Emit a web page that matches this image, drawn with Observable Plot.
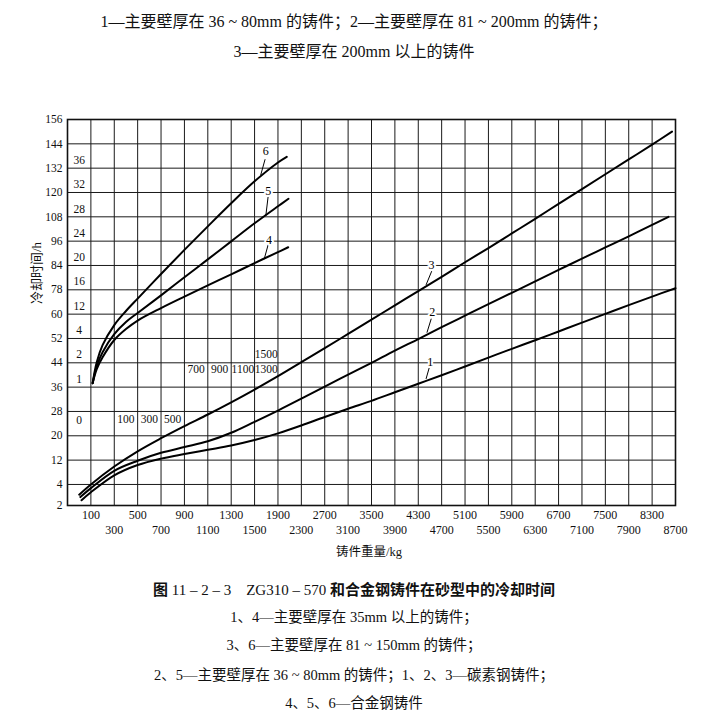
<!DOCTYPE html>
<html><head><meta charset="utf-8">
<script src="https://cdn.jsdelivr.net/npm/d3@7"></script>
<script src="https://cdn.jsdelivr.net/npm/@observablehq/plot@0.6"></script>
<style>
body{margin:0;background:#fff;}
#wrap{position:relative;width:708px;height:722px;font-family:"Liberation Serif","Noto Sans CJK SC",serif;color:#111;overflow:hidden;}
#wrap svg{position:absolute;left:0;top:0;}
.t{position:absolute;left:0;width:708px;text-align:center;white-space:nowrap;}
.r{position:absolute;white-space:nowrap;}
.n{font-weight:normal;}
</style></head><body><div id="wrap"></div>
<script>
// ---- tick labels ----
const xTicks = [100,300,500,700,900,1100,1300,1500,1900,2300,2700,3100,3500,3900,4300,4700,5100,5500,5900,6300,6700,7100,7500,7900,8300,8700];
const yTicks = [2,4,12,20,28,36,44,52,60,78,84,96,108,120,132,144,156];
const xRow1 = xTicks.filter((d, i) => i % 2 === 0);
const xRow2 = xTicks.filter((d, i) => i % 2 === 1);

// inner (alloy) scale labels
const alloyHours = ["36","32","28","24","20","16","12","4","2","1"];
const alloyHourLines = [132,120,108,96,84,78,60,52,44,36];
const alloyZero = ["0"];
const alloyWeightsLow = ["100","300","500"];
const alloyWeightsLowAt = [400,600,800];
const alloyWeightsHigh = ["700","900","1100","1300"];
const alloyWeightsHighAt = [1000,1200,1400,1700];
const alloyWeightsTop = ["1500"];
const alloyWeightsTopAt = [1700];

// ---- curves: [weight kg, cooling time h] ----
const curve1 = [[20,2.5],[100,3.26],[300,7.0],[500,10.4],[700,12.5],[900,14.0],[1100,15.4],[1300,16.8],[1500,18.6],[1900,20.8],[2300,23.4],[2700,26.2],[3100,28.9],[3500,31.5],[3900,34.3],[4300,37.1],[4700,39.9],[5100,42.8],[5500,45.7],[5900,48.6],[6300,51.4],[6700,54.3],[7100,57.2],[7500,60.2],[7900,66.7],[8300,73.0],[8700,78.4]];
const curve2 = [[10,2.8],[100,3.65],[300,8.5],[500,11.8],[700,14.4],[900,16.3],[1100,18.2],[1300,21.0],[1500,24.6],[1900,28.3],[2300,32.2],[2700,36.2],[3100,40.1],[3500,44.0],[3900,48.0],[4300,51.8],[4700,55.7],[5100,59.5],[5500,67.4],[5900,75.8],[6300,80.1],[6700,82.9],[7100,87.4],[7500,92.9],[7900,98.4],[8300,104.0],[8580,108.0]];
const curve3 = [[0,3.03],[100,4.0],[300,9.9],[500,14.9],[700,19.2],[900,23.2],[1100,27.0],[1300,31.0],[1500,35.2],[1900,39.6],[2300,44.2],[2700,48.8],[3100,53.5],[3500,58.2],[3900,66.5],[4300,77.1],[4700,81.2],[5100,85.6],[5500,92.6],[5900,99.8],[6300,107.0],[6700,114.4],[7100,121.7],[7500,129.0],[7900,136.3],[8300,143.6],[8640,150.0]];
const curve4 = [[115,37.3],[150,41.9],[200,45.8],[300,51.5],[400,55.1],[500,57.9],[700,64.5],[900,73.0],[1100,79.1],[1300,81.8],[1500,85.2],[1900,90.6],[2075,93.0]];
const curve5 = [[115,37.3],[150,42.9],[200,47.5],[300,53.4],[400,57.4],[500,60.9],[700,73.9],[900,81.1],[1100,87.0],[1300,95.9],[1500,104.8],[1900,113.2],[2080,116.9]];
const curve6 = [[115,37.3],[150,44.2],[200,49.8],[300,56.4],[400,62.3],[500,71.5],[700,81.9],[900,91.7],[1100,103.3],[1300,114.7],[1500,125.5],[1900,134.8],[2050,137.6]];

// curve number labels and their leader lines
const curveNames = ["1","2","3","4","5","6"];
const labelX = [4505,4540,4528,1748,1732,1692];
const labelY = [44.3,61.2,84,96.5,120.5,140.6];
const leaderFromX = [4491,4522,4530,1732,1732,1680];
const leaderFromY = [42.6,58.5,82.6,94.2,118.0,136.4];
const leaderToX = [4433,4448,4433,1664,1692,1605];
const leaderToY = [38.7,53.9,79.2,87.1,108.5,128.6];

// ---- layout ----
const W = 708, H = 722;
const mL = 67, mR = 33, mT = 119, mB = 217;
const xDomain = [-100, ...xTicks];
const xStep = (W - mL - mR) / (xDomain.length - 1);
const xRange = xDomain.map((d, i) => mL + i * xStep);
const firstCell = 0.865;
const yStep = (H - mB - mT) / (yTicks.length - 2 + firstCell);
const yRange = yTicks.map((d, i) => i === 0 ? H - mB : H - mB - (firstCell + (i - 1)) * yStep);

const curves = [curve1, curve2, curve3, curve4, curve5, curve6]
  .flatMap((c, k) => c.map(([x, y]) => ({id: k + 1, x, y})));
const labels = curveNames.map((t, i) => ({t, x: labelX[i], y: labelY[i]}));
const leaders = curveNames.map((t, i) => ({x1: leaderFromX[i], y1: leaderFromY[i], x2: leaderToX[i], y2: leaderToY[i]}));

const font = "'Liberation Serif','Noto Sans CJK SC',serif";
const chart = Plot.plot({
  width: W, height: H,
  marginLeft: mL, marginRight: mR, marginTop: mT, marginBottom: mB,
  x: {type: "linear", domain: xDomain, range: xRange, axis: null},
  y: {type: "linear", domain: yTicks, range: yRange, axis: null},
  style: {fontFamily: font, fontSize: "12px", color: "#111", background: "transparent", overflow: "visible"},
  marks: [
    Plot.ruleX(xTicks.slice(0, -1), {x: d => d, stroke: "#1a1a1a", strokeWidth: 1}),
    Plot.ruleY(yTicks.slice(1, -1), {y: d => d, stroke: "#1a1a1a", strokeWidth: 1}),
    Plot.frame({stroke: "#111", strokeWidth: 1.6}),
    // outer axis labels
    Plot.text(yTicks, {y: d => d, text: d => String(d), frameAnchor: "left", textAnchor: "end", lineAnchor: "middle", dx: -5, fontSize: 11.5, fill: "#111"}),
    Plot.text(xRow1, {x: d => d, text: d => String(d), frameAnchor: "bottom", lineAnchor: "middle", textAnchor: "middle", dy: 10, fontSize: 12, fill: "#111"}),
    Plot.text(xRow2, {x: d => d, text: d => String(d), frameAnchor: "bottom", lineAnchor: "middle", textAnchor: "middle", dy: 25, fontSize: 12, fill: "#111"}),
    // inner alloy scale
    Plot.text(alloyHours, {x: () => 0, y: (d, i) => alloyHourLines[i], text: d => d, dy: -8, fontSize: 11.5, fill: "#111"}),
    Plot.text(alloyZero, {x: () => 0, y: () => 28, text: d => d, dy: 9, fontSize: 11.5, fill: "#111"}),
    Plot.text(alloyWeightsLow, {x: (d, i) => alloyWeightsLowAt[i], y: () => 28, text: d => d, dy: 8, fontSize: 11.5, fill: "#111"}),
    Plot.text(alloyWeightsHigh, {x: (d, i) => alloyWeightsHighAt[i], y: () => 44, text: d => d, dy: 7, fontSize: 11.5, fill: "#111"}),
    Plot.text(alloyWeightsTop, {x: (d, i) => alloyWeightsTopAt[i], y: () => 44, text: d => d, dy: -8, fontSize: 11.5, fill: "#111"}),
    // curves
    Plot.line(curves, {x: "x", y: "y", z: "id", stroke: "#000", strokeWidth: 2, curve: "catmull-rom"}),
    Plot.link(leaders, {x1: "x1", y1: "y1", x2: "x2", y2: "y2", stroke: "#000", strokeWidth: 1}),
    Plot.text(labels, {x: "x", y: "y", text: "t", fontSize: 12, fill: "#000", stroke: "white", strokeWidth: 4})
  ]
});

const wrap = document.getElementById("wrap");
wrap.appendChild(chart);

function addText(cls, html, style) {
  const d = document.createElement("div");
  d.className = cls;
  d.innerHTML = html;
  Object.assign(d.style, style);
  wrap.appendChild(d);
}
addText("t", "1—主要壁厚在 36 ~ 80mm 的铸件；2—主要壁厚在 81 ~ 200mm 的铸件；", {top: "12px", fontSize: "16px", lineHeight: "20px"});
addText("t", "3—主要壁厚在 200mm 以上的铸件", {top: "42px", fontSize: "16px", lineHeight: "20px"});
addText("r", "冷却时间/h", {left: "35px", top: "273px", fontSize: "13px", transform: "translate(-50%,-50%) rotate(-90deg)"});
addText("r", "铸件重量/kg", {left: "369px", top: "550px", fontSize: "12.5px", transform: "translate(-50%,-50%)"});
addText("t", "图 <span class='n'>11 – 2 – 3　ZG310 – 570</span> 和合金钢铸件在砂型中的冷却时间", {top: "580px", fontSize: "15px", lineHeight: "20px", fontWeight: "bold"});
addText("t", "1、4—主要壁厚在 35mm 以上的铸件；", {top: "607px", fontSize: "14.5px", lineHeight: "20px"});
addText("t", "3、6—主要壁厚在 81 ~ 150mm 的铸件；", {top: "635px", fontSize: "14.5px", lineHeight: "20px"});
addText("t", "2、5—主要壁厚在 36 ~ 80mm 的铸件；1、2、3—碳素钢铸件；", {top: "665px", fontSize: "14.5px", lineHeight: "20px"});
addText("t", "4、5、6—合金钢铸件", {top: "693px", fontSize: "14.5px", lineHeight: "20px"});
</script></body></html>
